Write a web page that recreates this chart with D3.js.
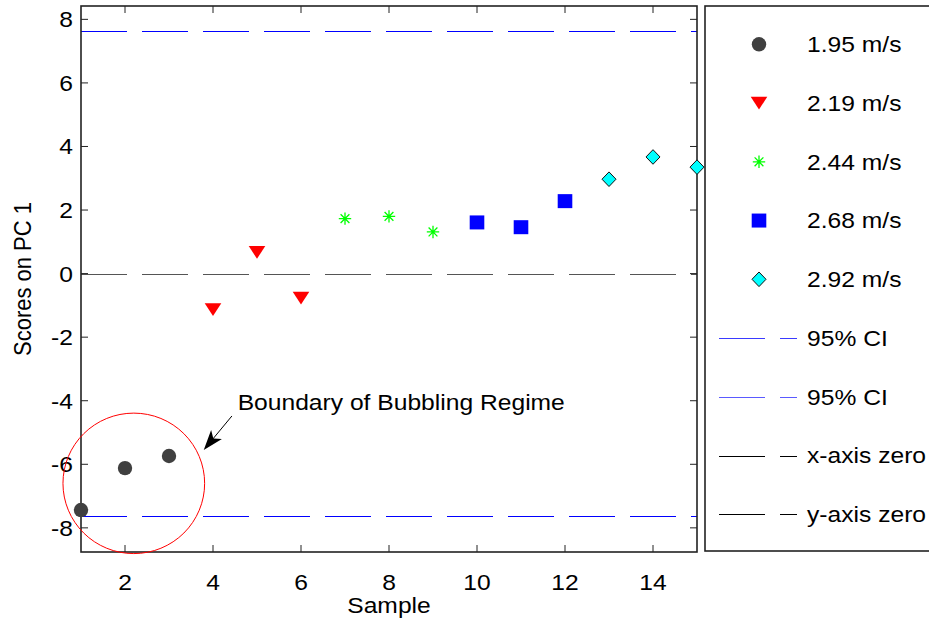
<!DOCTYPE html>
<html>
<head>
<meta charset="utf-8">
<script src="https://cdn.jsdelivr.net/npm/d3@7"></script>
<style>
  body { margin: 0; background: #fff; }
  text { font-family: "Liberation Sans", Arial, sans-serif; fill: #000; }
</style>
</head>
<body>
<div id="plot"></div>
<script>
// Data
const samples = [1, 2, 3, 4, 5, 6, 7, 8, 9, 10, 11, 12, 13, 14, 15];
const scores = [-7.44, -6.12, -5.74, -1.13, 0.67, -0.77, 1.73, 1.80, 1.31, 1.61, 1.46, 2.28, 2.97, 3.67, 3.35];
const groupOfSample = [0, 0, 0, 1, 1, 1, 2, 2, 2, 3, 3, 3, 4, 4, 4];
const speeds = ["1.95 m/s", "2.19 m/s", "2.44 m/s", "2.68 m/s", "2.92 m/s"];
const lineLabels = ["95% CI", "95% CI", "x-axis zero", "y-axis zero"];
const ciLimit = 7.63;
const xTicks = [2, 4, 6, 8, 10, 12, 14];
const yTicks = [-8, -6, -4, -2, 0, 2, 4, 6, 8];

// annotation (data units)
const ellipse = {cx: 2.2, cy: -6.6, rx: 1.61, ry: 2.21};
const arrow = {x1: 4.43, y1: -4.48, x2: 3.79, y2: -5.55};
const note = {x: 4.56, y: -4.30, text: "Boundary of Bubbling Regime"};

const W = 929, H = 621;
const plot = {left: 81, right: 697, top: 6, bottom: 552};
const fontSize = 22;
const stretch = 1.12; // text in the picture is a bit wide

const svg = d3.select("#plot").append("svg")
    .attr("width", W)
    .attr("height", H);

const x = d3.scaleLinear().domain([1, 15]).range([plot.left, plot.right]);
const y = d3.scaleLinear().domain([-8.76, 8.42]).range([plot.bottom, plot.top]);

// text helper: places a (horizontally stretched) label
function label(px, py, str, anchor, dy, rotate) {
    return svg.append("text")
        .attr("transform", `translate(${px},${py}) scale(${stretch},1)` + (rotate ? " rotate(-90)" : ""))
        .attr("text-anchor", anchor || "start")
        .attr("dy", dy || 0)
        .style("font-size", fontSize + "px")
        .text(str);
}

// marker shapes
const markerColor = ["#404040", "#ff0000", "#00ff00", "#0000ff", "#00ffff"];
function drawMarker(g, group) {
    if (group === 0) {
        g.append("circle").attr("r", 7.2).attr("fill", markerColor[0]);
    } else if (group === 1) {
        g.append("path").attr("d", "M-8.3,-6.3L8.3,-6.3L0,6.5Z").attr("fill", markerColor[1]);
    } else if (group === 2) {
        g.append("path")
            .attr("d", "M-6.2,0H6.2M0,-6.2V6.2M-4.4,-4.4L4.4,4.4M-4.4,4.4L4.4,-4.4")
            .attr("stroke", markerColor[2]).attr("stroke-width", 1.3).attr("fill", "none");
    } else if (group === 3) {
        g.append("rect").attr("x", -7.3).attr("y", -7).attr("width", 14.6).attr("height", 14)
            .attr("fill", markerColor[3]);
    } else {
        g.append("path").attr("d", "M0,-7.3L7,0L0,7.3L-7,0Z")
            .attr("fill", markerColor[4]).attr("stroke", "#111").attr("stroke-width", 1);
    }
}

// dashed reference lines
const dash = "46,15";
svg.append("line")
    .attr("x1", plot.left).attr("x2", plot.right)
    .attr("y1", Math.round(y(0)) + 0.5).attr("y2", Math.round(y(0)) + 0.5)
    .attr("stroke", "#555").attr("stroke-width", 1).attr("stroke-dasharray", dash);
[ciLimit, -ciLimit].forEach(v => {
    svg.append("line")
        .attr("x1", plot.left).attr("x2", plot.right)
        .attr("y1", Math.round(y(v)) + 0.5).attr("y2", Math.round(y(v)) + 0.5)
        .attr("stroke", "#0000ff").attr("stroke-width", 1).attr("stroke-dasharray", dash);
});

// axes box with inward ticks
const axisG = svg.append("g");
axisG.append("rect")
    .attr("x", plot.left).attr("y", plot.top)
    .attr("width", plot.right - plot.left).attr("height", plot.bottom - plot.top)
    .attr("fill", "none").attr("stroke", "#222").attr("stroke-width", 1.6);

const tickLen = 7;
xTicks.forEach(t => {
    axisG.append("line").attr("x1", x(t)).attr("x2", x(t))
        .attr("y1", plot.bottom).attr("y2", plot.bottom - tickLen).attr("stroke", "#222");
    axisG.append("line").attr("x1", x(t)).attr("x2", x(t))
        .attr("y1", plot.top).attr("y2", plot.top + tickLen).attr("stroke", "#222");
    label(x(t), plot.bottom + 38, t, "middle");
});
yTicks.forEach(t => {
    axisG.append("line").attr("x1", plot.left).attr("x2", plot.left + tickLen)
        .attr("y1", y(t)).attr("y2", y(t)).attr("stroke", "#222");
    axisG.append("line").attr("x1", plot.right).attr("x2", plot.right - tickLen)
        .attr("y1", y(t)).attr("y2", y(t)).attr("stroke", "#222");
    label(plot.left - 8, y(t), t, "end", "0.36em");
});

// axis labels
label((plot.left + plot.right) / 2, plot.bottom + 61, "Sample", "middle");
label(31, (plot.top + plot.bottom) / 2, "Scores on PC 1", "middle", 0, true);

// points
samples.forEach((s, i) => {
    const g = svg.append("g").attr("transform", `translate(${x(s)},${y(scores[i])})`);
    drawMarker(g, groupOfSample[i]);
});

// annotation
svg.append("ellipse")
    .attr("cx", x(ellipse.cx)).attr("cy", y(ellipse.cy))
    .attr("rx", x(ellipse.cx + ellipse.rx) - x(ellipse.cx))
    .attr("ry", y(ellipse.cy) - y(ellipse.cy + ellipse.ry))
    .attr("fill", "none").attr("stroke", "#ff0000").attr("stroke-width", 1);

const ax1 = x(arrow.x1), ay1 = y(arrow.y1), ax2 = x(arrow.x2), ay2 = y(arrow.y2);
const ang = Math.atan2(ay2 - ay1, ax2 - ax1);
svg.append("line")
    .attr("x1", ax1).attr("y1", ay1)
    .attr("x2", ax2 - 10 * Math.cos(ang)).attr("y2", ay2 - 10 * Math.sin(ang))
    .attr("stroke", "#000").attr("stroke-width", 1);
svg.append("path")
    .attr("transform", `translate(${ax2},${ay2}) rotate(${ang * 180 / Math.PI})`)
    .attr("d", "M0,0L-20,-7L-15,0L-20,7Z")
    .attr("fill", "#000");

label(x(note.x), y(note.y), note.text);

// legend
const legend = {left: 705, top: 6, bottom: 551};
svg.append("rect")
    .attr("x", legend.left).attr("y", legend.top)
    .attr("width", W - legend.left + 20).attr("height", legend.bottom - legend.top)
    .attr("fill", "#fff").attr("stroke", "#222").attr("stroke-width", 1.6);

const rowY = d3.scaleLinear().domain([0, 8]).range([44.3, 514.3]);
speeds.forEach((s, i) => {
    const g = svg.append("g").attr("transform", `translate(759,${rowY(i)})`);
    drawMarker(g, i);
    label(807, rowY(i), s, "start", "0.36em");
});
const lineColors = ["#3a3aff", "#5a5aff", "#000", "#000"];
lineLabels.forEach((s, j) => {
    const i = j + speeds.length;
    svg.append("line")
        .attr("x1", 719).attr("x2", 797)
        .attr("y1", Math.round(rowY(i)) + 0.5).attr("y2", Math.round(rowY(i)) + 0.5)
        .attr("stroke", lineColors[j]).attr("stroke-width", 1)
        .attr("stroke-dasharray", dash);
    label(807, rowY(i), s, "start", "0.36em");
});
</script>
</body>
</html>
